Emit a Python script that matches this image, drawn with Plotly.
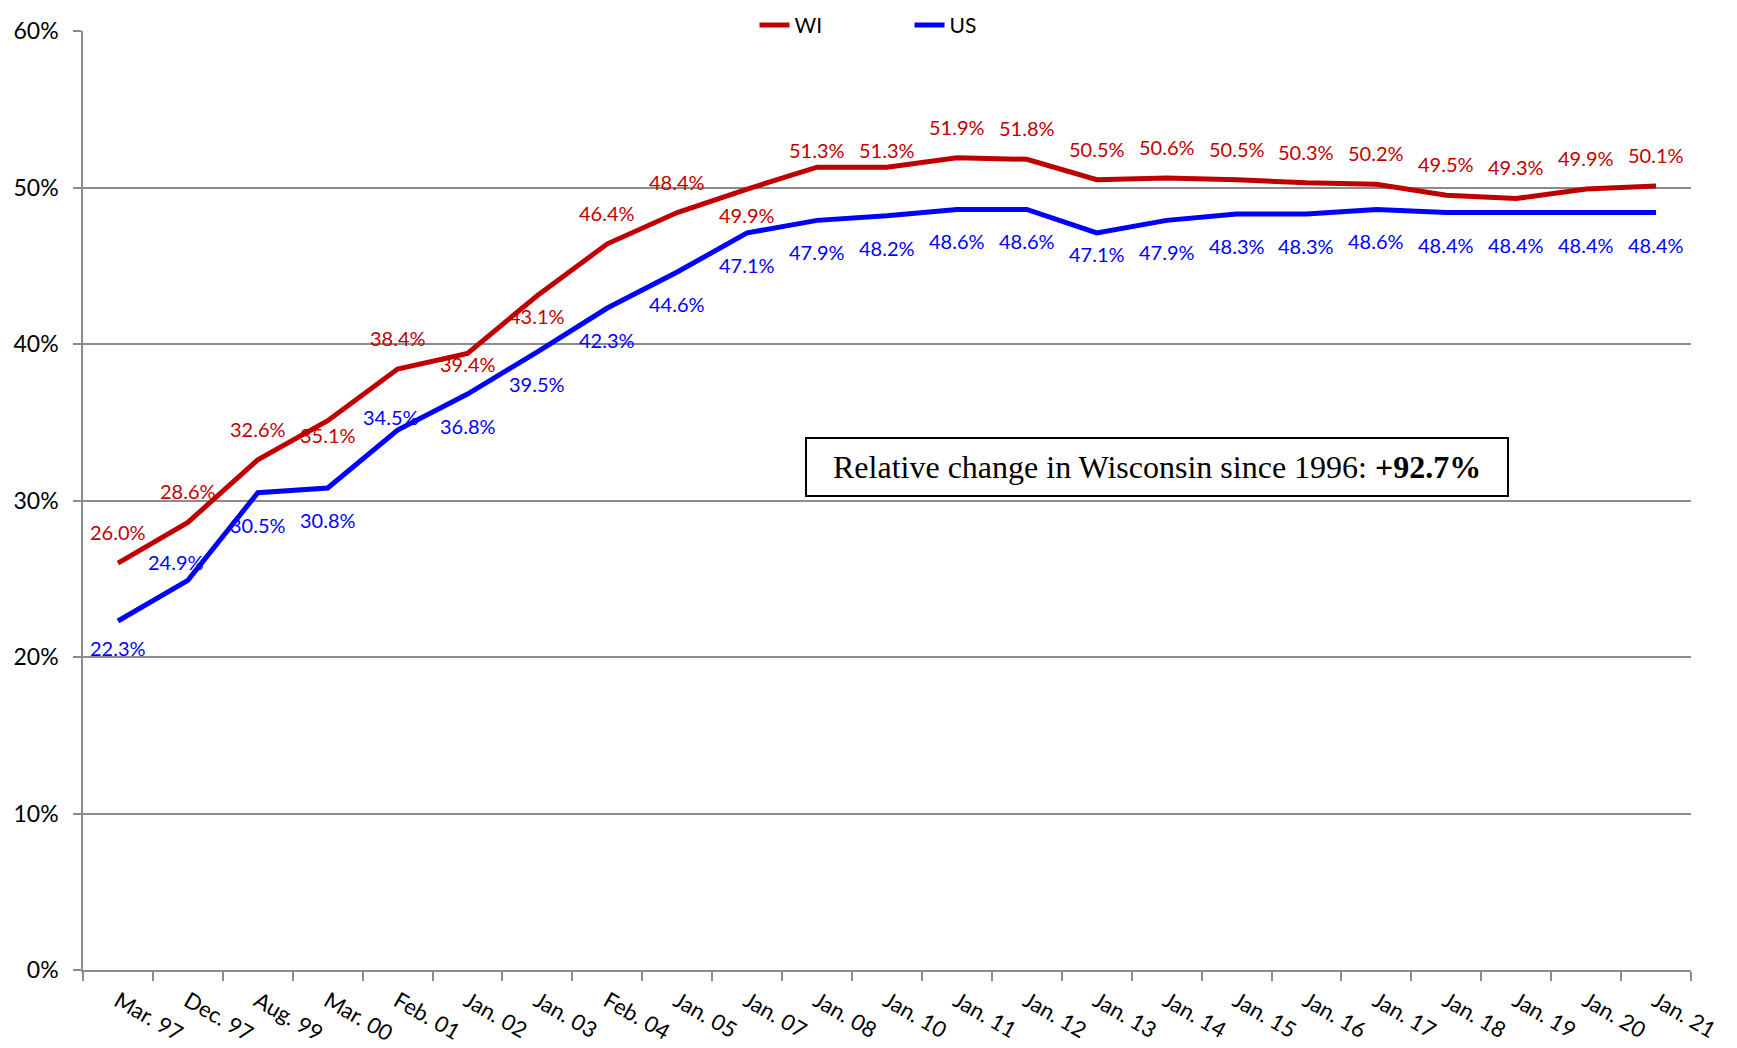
import plotly.graph_objects as go

categories = ["Mar. 97", "Dec. 97", "Aug. 99", "Mar. 00", "Feb. 01", "Jan. 02", "Jan. 03",
              "Feb. 04", "Jan. 05", "Jan. 07", "Jan. 08", "Jan. 10", "Jan. 11", "Jan. 12",
              "Jan. 13", "Jan. 14", "Jan. 15", "Jan. 16", "Jan. 17", "Jan. 18", "Jan. 19",
              "Jan. 20", "Jan. 21"]
wi_values = [26.0, 28.6, 32.6, 35.1, 38.4, 39.4, 43.1, 46.4, 48.4, 49.9, 51.3, 51.3, 51.9,
             51.8, 50.5, 50.6, 50.5, 50.3, 50.2, 49.5, 49.3, 49.9, 50.1]
us_values = [22.3, 24.9, 30.5, 30.8, 34.5, 36.8, 39.5, 42.3, 44.6, 47.1, 47.9, 48.2, 48.6,
             48.6, 47.1, 47.9, 48.3, 48.3, 48.6, 48.4, 48.4, 48.4, 48.4]
y_tick_values = [0, 10, 20, 30, 40, 50, 60]
y_tick_labels = ["0%", "10%", "20%", "30%", "40%", "50%", "60%"]
note_text = "\u2002Relative change in Wisconsin since 1996: <b>+92.7%</b>\u2002"

WI_COLOR = "#C00000"
US_COLOR = "#0000FF"
FONT = "Lato, 'Open Sans', sans-serif"

# label placement (pixel shifts, style only)
wi_yshift = [31] * len(categories)
for i, s in {3: -14, 5: -11, 6: -21, 9: -26, 10: 17, 11: 17}.items():
    wi_yshift[i] = s
us_yshift = [-32] * len(categories)
us_xshift = [0] * len(categories)
for i, s in {0: -27, 1: 18, 4: 13, 14: -21}.items():
    us_yshift[i] = s
us_xshift[1] = -12
us_xshift[4] = -7

fig = go.Figure()
fig.add_trace(go.Scatter(x=categories, y=wi_values, mode="lines", name="WI",
                         line=dict(color=WI_COLOR, width=5)))
fig.add_trace(go.Scatter(x=categories, y=us_values, mode="lines", name="US",
                         line=dict(color=US_COLOR, width=5)))

annotations = []
for i, c in enumerate(categories):
    annotations.append(dict(x=c, y=wi_values[i], xref="x", yref="y", text=f"{wi_values[i]:.1f}%",
                            showarrow=False, yshift=wi_yshift[i],
                            font=dict(family=FONT, size=20, color=WI_COLOR)))
    annotations.append(dict(x=c, y=us_values[i], xref="x", yref="y", text=f"{us_values[i]:.1f}%",
                            showarrow=False, yshift=us_yshift[i], xshift=us_xshift[i],
                            font=dict(family=FONT, size=20, color=US_COLOR)))
annotations.append(dict(x=0.668, y=0.536, xref="paper", yref="paper", text=note_text,
                        showarrow=False, xanchor="center", yanchor="middle",
                        font=dict(family="'Liberation Serif', 'Times New Roman', serif", size=32, color="black"),
                        bordercolor="black", borderwidth=2, borderpad=10, bgcolor="white"))

fig.update_layout(
    width=1729, height=1040,
    margin=dict(l=75, r=46, t=23, b=77.5, autoexpand=False),
    paper_bgcolor="white", plot_bgcolor="white",
    font=dict(family=FONT, size=21, color="black"),
    showlegend=True,
    legend=dict(orientation="h", x=0.514, xanchor="center", y=1.006, yanchor="middle",
                font=dict(family=FONT, size=21, color="black"), bgcolor="rgba(0,0,0,0)",
                entrywidth=110),
    annotations=annotations,
)
fig.update_xaxes(type="category", range=[-0.5, len(categories) - 0.5], tickangle=30,
                 tickson="boundaries", ticks="outside", ticklen=9, tickwidth=1.5, tickcolor="#8c8c8c",
                 showline=True, linecolor="#8c8c8c", linewidth=1.5, showgrid=False,
                 ticklabelstandoff=8,
                 tickfont=dict(family=FONT, size=22, color="black"), automargin=False)
fig.update_yaxes(range=[0, 60], tickvals=y_tick_values, ticktext=y_tick_labels,
                 ticks="outside", ticklen=8, tickwidth=1.5, tickcolor="#8c8c8c",
                 showline=True, linecolor="#8c8c8c", linewidth=1.5,
                 showgrid=True, gridcolor="#8c8c8c", gridwidth=1.5, zeroline=False,
                 ticklabelstandoff=10,
                 tickfont=dict(family=FONT, size=23, color="black"), automargin=False)

fig.write_html("out.html")
